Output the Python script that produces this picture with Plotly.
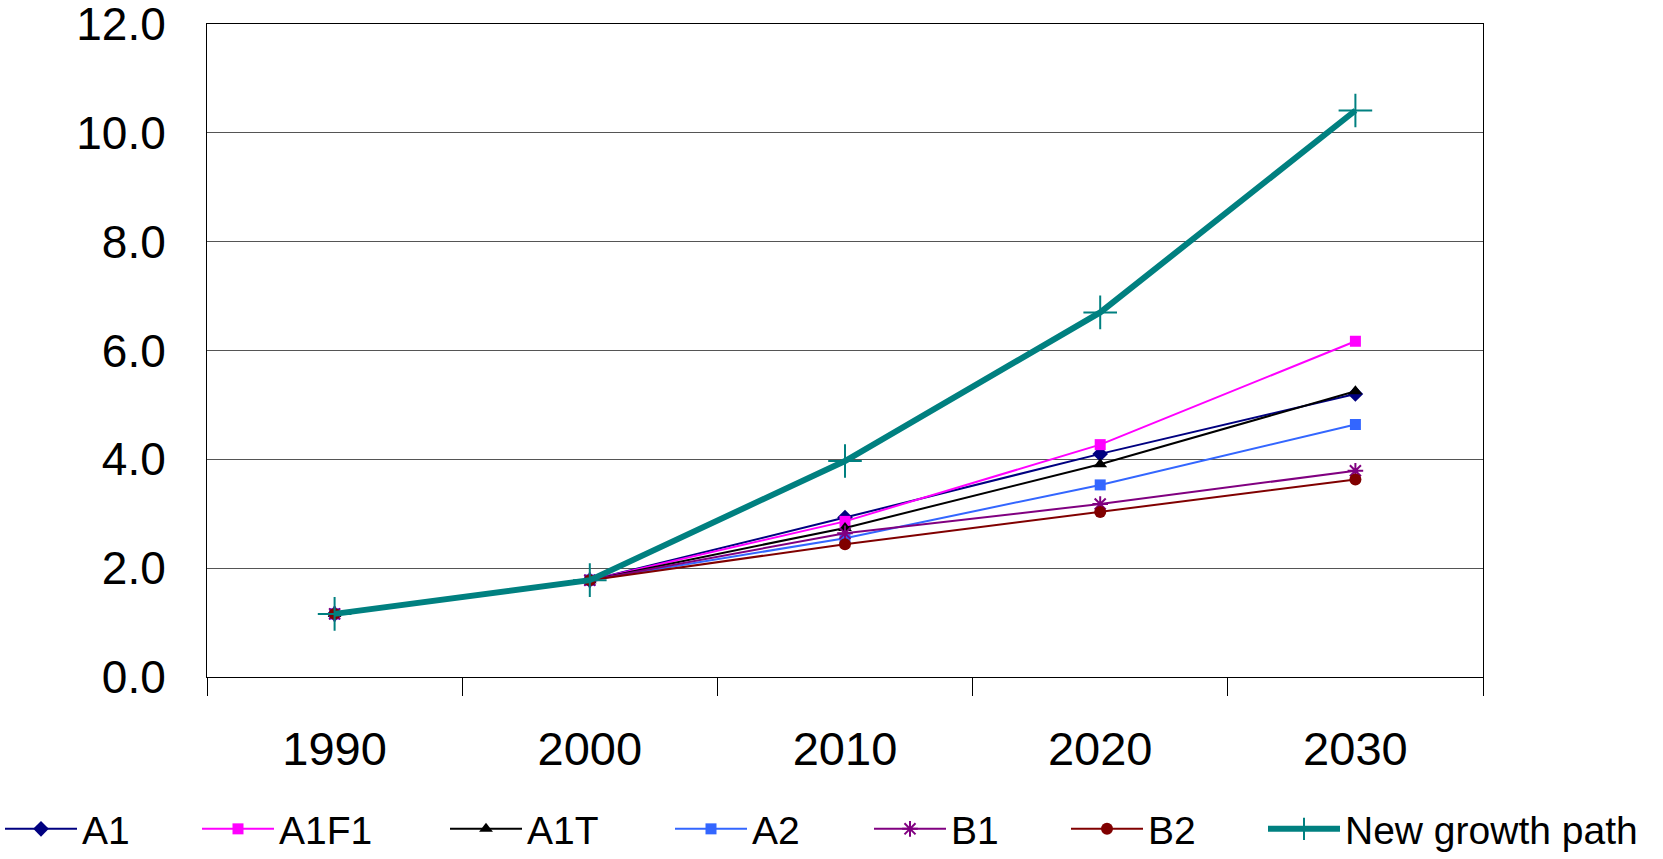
import plotly.graph_objects as go

# Categories and series values
years = ["1990", "2000", "2010", "2020", "2030"]
a1 = [1.16, 1.78, 2.93, 4.10, 5.20]
a1f1 = [1.16, 1.78, 2.86, 4.27, 6.17]
a1t = [1.16, 1.78, 2.74, 3.91, 5.25]
a2 = [1.16, 1.78, 2.55, 3.53, 4.64]
b1 = [1.16, 1.78, 2.64, 3.18, 3.79]
b2 = [1.16, 1.78, 2.44, 3.03, 3.63]
new_growth = [1.16, 1.78, 3.97, 6.70, 10.41]

y_ticks = [0, 2, 4, 6, 8, 10, 12]

FONT = "Arial, Liberation Sans, sans-serif"
W, H = 1663, 859

# name, values, colour, marker symbol, marker size, line width, marker outline
series = [
    ("A1", a1, "#000080", "diamond", 12, 2, 0),
    ("A1F1", a1f1, "#FF00FF", "square", 11, 2, 0),
    ("A1T", a1t, "#000000", "triangle-up", 12, 2, 0),
    ("A2", a2, "#3366FF", "square", 11, 2, 0),
    ("B1", b1, "#800080", "asterisk-open", 13, 2, 2),
    ("B2", b2, "#800000", "circle", 12, 2, 0),
    ("New growth path", new_growth, "#008080", "cross-thin-open", 24, 6, 2),
]

# left edge (px) of each legend entry along the bottom row
legend_left_px = [0, 197, 445, 670, 869, 1066, 1263]
legend_mid_px = 829

fig = go.Figure()
legends = {}
for i, (name, vals, color, symbol, msize, lw, mline) in enumerate(series):
    key = "legend" if i == 0 else f"legend{i + 1}"
    marker = dict(symbol=symbol, size=msize, color=color)
    if mline:
        marker["line"] = dict(color=color, width=mline)
    fig.add_trace(go.Scatter(
        x=years, y=vals, name=name, mode="lines+markers",
        line=dict(color=color, width=lw), marker=marker, legend=key,
    ))
    legends[key] = dict(
        xref="container", yref="container",
        x=legend_left_px[i] / W, xanchor="left",
        y=1 - legend_mid_px / H, yanchor="middle",
        orientation="h", itemwidth=72,
        font=dict(family=FONT, size=39, color="#000000"),
        bgcolor="rgba(0,0,0,0)", borderwidth=0,
    )

fig.update_layout(
    width=W, height=H,
    margin=dict(l=207, r=180, t=24, b=182, autoexpand=False),
    paper_bgcolor="white", plot_bgcolor="white",
    font=dict(family=FONT, color="#000000"),
    showlegend=True,
    xaxis=dict(
        type="category", range=[-0.5, 4.5], automargin=False,
        showline=True, linecolor="#000000", linewidth=1, mirror=True,
        ticks="outside", tickson="boundaries", ticklen=18, tickcolor="#000000",
        showgrid=False, tickfont=dict(family=FONT, size=47),
        ticklabelstandoff=31,
    ),
    yaxis=dict(
        range=[0, 12], tickvals=y_ticks, tickformat=".1f", automargin=False,
        showline=True, linecolor="#000000", linewidth=1, mirror=True,
        ticks="", showgrid=True, gridcolor="#555555", gridwidth=1,
        zeroline=False, tickfont=dict(family=FONT, size=46),
        ticklabelstandoff=31, ticklabeloverflow="allow",
    ),
    **legends,
)

fig.write_html("out.html")
